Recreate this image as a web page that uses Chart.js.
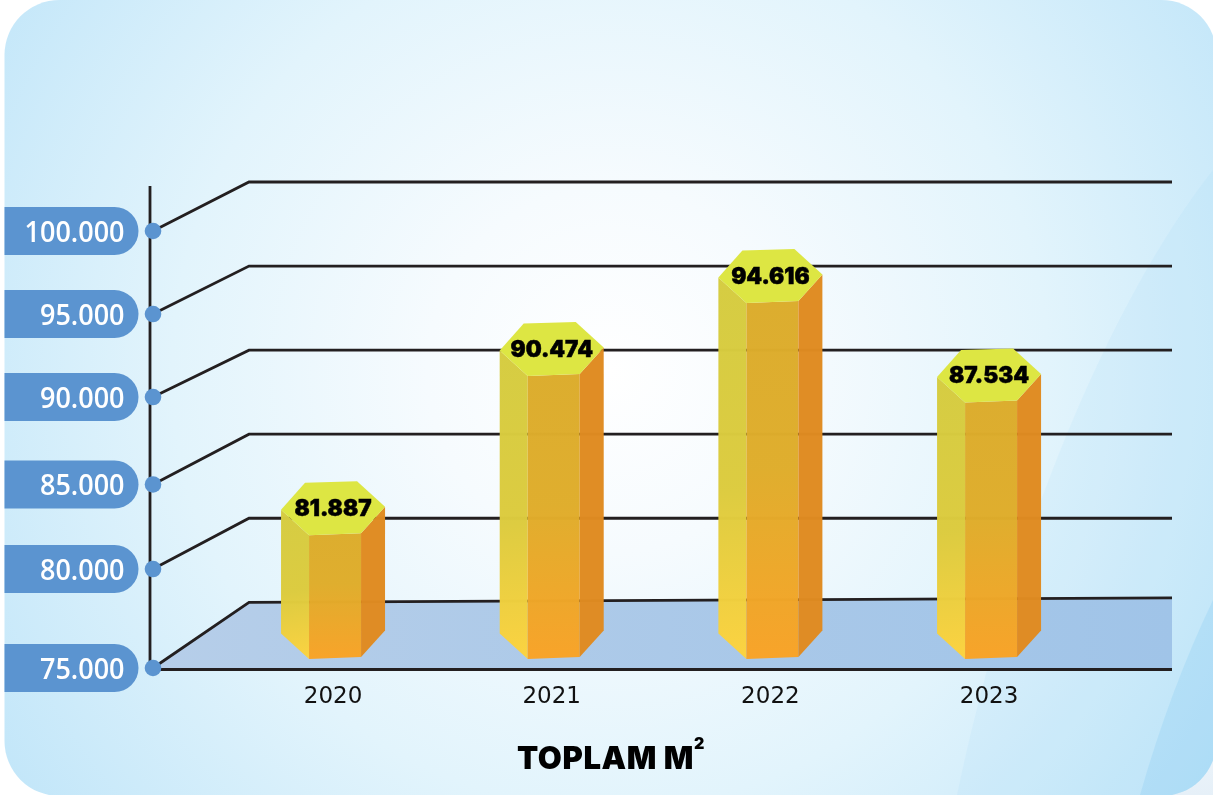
<!DOCTYPE html>
<html>
<head>
<meta charset="utf-8">
<style>
html,body{margin:0;padding:0;background:#fff;overflow:hidden}
canvas{display:block}
</style>
<script src="https://cdn.jsdelivr.net/npm/chart.js@4"></script>
</head>
<body>
<canvas id="c" width="1213" height="795"></canvas>
<script>
// ---- data ----
const categories = ['2020', '2021', '2022', '2023'];
const values = [81887, 90474, 94616, 87534];
const valueLabels = ['81.887', '90.474', '94.616', '87.534'];
// heights of the prisms as the picture draws them, read against the back-wall gridlines
const drawnLevels = [80600, 90070, 94410, 88490];
const yTickValues = [75000, 80000, 85000, 90000, 95000, 100000];
const yTickLabels = ['75.000', '80.000', '85.000', '90.000', '95.000', '100.000'];
const titleText = 'TOPLAM M';
const titleExponent = '2';

// ---- styling / perspective ----
const wallLeft = 249, rightEnd = 1172, axisX = 150, dotX = 153;
const frontDrop = [65.7, 50.8, 50.3, 46.9, 48, 49];   // how far each wall line drops at the front edge
const floorFrontY = 669.5, floorRise = 4.5, baseDrop = 29.7;
const hex = {L:[-52,1.5],UL:[-28,-25.5],UR:[24,-27],R:[52,-1.5],LR:[28,25],LL:[-24,27]};

function roundedCard(ctx){
  ctx.beginPath();
  ctx.roundRect(4.5, 0, 1212, 796, 55);
}
function poly(ctx, pts, fill){
  ctx.beginPath();
  pts.forEach((p,i)=> i ? ctx.lineTo(p[0],p[1]) : ctx.moveTo(p[0],p[1]));
  ctx.closePath();
  ctx.fillStyle = fill;
  ctx.fill();
}

const scene = {
  id:'scene',
  beforeDraw(chart){
    const ctx = chart.ctx, y = chart.scales.y, area = chart.chartArea;
    ctx.save();
    ctx.fillStyle='#fff'; ctx.fillRect(0,0,1213,795);
    const corner = ctx.createLinearGradient(0,600,0,795);
    corner.addColorStop(0,'#ffffff'); corner.addColorStop(1,'#e6f0f8');
    ctx.fillStyle = corner; ctx.fillRect(1100,600,113,195);
    roundedCard(ctx); ctx.save(); ctx.clip();
    const g = ctx.createRadialGradient(610,370,0,610,370,730);
    g.addColorStop(0,'#ffffff'); g.addColorStop(.25,'#f6fbfe');
    g.addColorStop(.6,'#e2f4fc'); g.addColorStop(1,'#c2e6f9');
    ctx.fillStyle=g; ctx.fillRect(0,0,1213,795);
    // swooshes
    ctx.beginPath(); ctx.moveTo(1213,170);
    ctx.bezierCurveTo(1110,300,1010,540,957,795);
    ctx.lineTo(1213,795); ctx.closePath();
    ctx.fillStyle='rgba(150,208,242,.11)'; ctx.fill();
    ctx.beginPath(); ctx.moveTo(1213,600);
    ctx.quadraticCurveTo(1170,690,1140,795);
    ctx.lineTo(1213,795); ctx.closePath();
    ctx.fillStyle='rgba(120,195,240,.22)'; ctx.fill();
    ctx.restore();

    // floor
    const backY = area.bottom;
    const fl = ctx.createLinearGradient(160,0,1172,0);
    fl.addColorStop(0,'#b6cee9'); fl.addColorStop(1,'#a0c4e8');
    poly(ctx,[[dotX,y.getPixelForValue(75000)+frontDrop[0]],[wallLeft,backY],[rightEnd,backY-floorRise],[rightEnd,floorFrontY],[dotX,floorFrontY]],fl);

    // wall lines
    ctx.strokeStyle='#231f20'; ctx.lineWidth=2.8; ctx.lineJoin='miter';
    yTickValues.forEach((v,i)=>{
      const py = y.getPixelForValue(v);
      ctx.beginPath();
      ctx.moveTo(dotX,py+frontDrop[i]);
      ctx.lineTo(wallLeft,py);
      ctx.lineTo(rightEnd,i===0?py-floorRise:py);
      ctx.stroke();
    });
    ctx.beginPath(); ctx.moveTo(dotX,floorFrontY); ctx.lineTo(rightEnd,floorFrontY); ctx.stroke();
    ctx.beginPath(); ctx.moveTo(axisX,186); ctx.lineTo(axisX,floorFrontY+1); ctx.stroke();

    // pills, dots and tick labels
    yTickValues.forEach((v,i)=>{
      const cy = y.getPixelForValue(v)+frontDrop[i];
      ctx.fillStyle='#5b94d0';
      ctx.beginPath(); ctx.roundRect(4.5,cy-24,134,48,[0,24,24,0]); ctx.fill();
      ctx.beginPath(); ctx.arc(dotX,cy,8.3,0,Math.PI*2); ctx.fill();
      ctx.fillStyle='#fff'; ctx.font='600 29px "Open Sans"'; ctx.textAlign='right'; ctx.textBaseline='middle';
      ctx.fillText(yTickLabels[i],124.5,cy+2.5,ctx.measureText(yTickLabels[i]).width*.93);
    });
    ctx.restore();
  },
  afterDatasetsDraw(chart){
    const ctx = chart.ctx, y = chart.scales.y, area = chart.chartArea;
    const meta = chart.getDatasetMeta(0);
    ctx.save();
    meta.data.forEach((bar,i)=>{
      const cx = bar.x, topY = y.getPixelForValue(drawnLevels[i]), baseY = area.bottom+baseDrop;
      const t = k=>[cx+hex[k][0],topY+hex[k][1]], b = k=>[cx+hex[k][0],baseY+hex[k][1]];
      ctx.globalAlpha=.985;
      const lg = ctx.createLinearGradient(cx-52,topY,cx-24,baseY+27);
      lg.addColorStop(0,'#d5cc40'); lg.addColorStop(.55,'#dccb3e'); lg.addColorStop(1,'#fdd33f');
      poly(ctx,[t('L'),t('LL'),b('LL'),b('L')],lg);
      const fg = ctx.createLinearGradient(0,topY,0,baseY+27);
      fg.addColorStop(0,'#dbac2c'); fg.addColorStop(.5,'#dfad2b'); fg.addColorStop(1,'#f9a327');
      poly(ctx,[t('LL'),t('LR'),b('LR'),b('LL')],fg);
      poly(ctx,[t('LR'),t('R'),b('R'),b('LR')],'#e08b22');
      ctx.globalAlpha=1;
      poly(ctx,[t('L'),t('UL'),t('UR'),t('R'),t('LR'),t('LL')],'#dde643');
      ctx.fillStyle='#000'; ctx.strokeStyle='#000'; ctx.lineWidth=.5;
      ctx.font='900 22.5px Inter'; ctx.textAlign='center'; ctx.textBaseline='middle';
      ctx.fillText(valueLabels[i],cx,topY+1);
      ctx.strokeText(valueLabels[i],cx,topY+1);
    });
    ctx.fillStyle='#000'; ctx.font='900 31px Inter'; ctx.textAlign='left'; ctx.textBaseline='alphabetic';
    ctx.letterSpacing='0.6px';
    ctx.fillText(titleText,517,768.5);
    ctx.letterSpacing='0px';
    ctx.font='900 16px Inter';
    ctx.fillText(titleExponent,694,748.5);
    ctx.restore();
  }
};

new Chart(document.getElementById('c'),{
  type:'bar',
  data:{labels:categories,datasets:[{label:'TOPLAM M²',data:values,backgroundColor:'rgba(0,0,0,0)',borderWidth:0}]},
  plugins:[scene],
  options:{
    responsive:false,animation:false,
    layout:{padding:{left:223.7,right:114.6,top:182,bottom:0}},
    plugins:{legend:{display:false},title:{display:false},tooltip:{enabled:false}},
    scales:{
      x:{
        grid:{display:false},border:{display:false},
        ticks:{color:'#111',font:{family:'DejaVu Sans',size:23,weight:'400'},padding:73,maxRotation:0},
        afterFit(s){s.height=192.7;}
      },
      y:{
        min:75000,max:100000,
        grid:{display:false},border:{display:false},
        ticks:{display:false,stepSize:5000},
        afterFit(s){s.width=0;}
      }
    }
  }
});
</script>
</body>
</html>
